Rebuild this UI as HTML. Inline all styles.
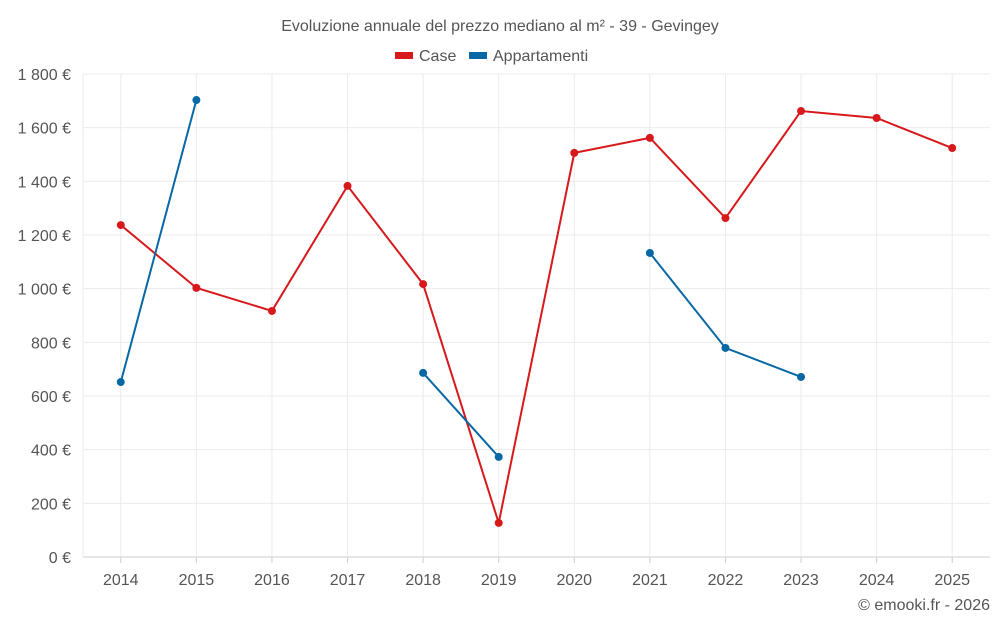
<!DOCTYPE html>
<html><head><meta charset="utf-8"><style>
body{margin:0;background:#fff;font-family:"Liberation Sans",sans-serif;}
svg text{font-family:"Liberation Sans",sans-serif;}
</style></head><body>
<svg id="chart" width="1000" height="625" xmlns="http://www.w3.org/2000/svg">
<text x="500" y="31" text-anchor="middle" font-size="16" fill="#555">Evoluzione annuale del prezzo mediano al m² - 39 - Gevingey</text>
<g>
<g><rect x="395" y="52" width="18" height="7" fill="#d7191c"/><text x="419" y="61" font-size="16" fill="#555">Case</text></g>
<g><rect x="469" y="52" width="18" height="7" fill="#0868a5"/><text x="493" y="61" font-size="16" fill="#555">Appartamenti</text></g>
</g>
<g id="grid"></g>
<g id="axes"></g>
<g id="series"></g>
<text x="990" y="610" text-anchor="end" font-size="16" fill="#555">© emooki.fr - 2026</text>
</svg>
<script>
const years=[2014,2015,2016,2017,2018,2019,2020,2021,2022,2023,2024,2025];
const caseValues=[1237,1003,917,1383,1017,127,1506,1562,1263,1662,1636,1524];
const appValues=[652,1703,null,null,686,373,null,1133,779,671,null,null];
const yTicks=[0,200,400,600,800,1000,1200,1400,1600,1800];
const yTickLabels=["0 €","200 €","400 €","600 €","800 €","1 000 €","1 200 €","1 400 €","1 600 €","1 800 €"];
const L=83,R=990,T=74,B=557,NS="http://www.w3.org/2000/svg";
const band=(R-L)/years.length;
const x=i=>L+band*(i+0.5);
const y=v=>B-(v/1800)*(B-T);
function mk(tag,attrs,parent){const e=document.createElementNS(NS,tag);for(const k in attrs)e.setAttribute(k,attrs[k]);parent.appendChild(e);return e;}
const grid=document.getElementById('grid'),axes=document.getElementById('axes'),series=document.getElementById('series');
yTicks.forEach((v,i)=>{
 const l=mk('line',{x1:L,x2:R,y1:y(v),y2:y(v),stroke:i==0?'#ccc':'#ebebeb','stroke-width':1},grid);
 
 
 const t=mk('text',{x:L-12,y:y(v)+6,'text-anchor':'end','font-size':16,fill:'#555'},axes);
 t.textContent=yTickLabels[i];
 
 
});
const le=mk('line',{x1:L,x2:L,y1:T,y2:B,stroke:'#ebebeb','stroke-width':1},grid);


years.forEach((yr,i)=>{
 const g=mk('line',{x1:x(i),x2:x(i),y1:T,y2:B,stroke:'#ebebeb','stroke-width':1},grid);
 
 
 const tk=mk('line',{x1:x(i),x2:x(i),y1:B,y2:B+6,stroke:'#ccc'},axes);
 
 
 const t=mk('text',{x:x(i),y:B+28,'text-anchor':'middle','font-size':16,fill:'#555'},axes);
 t.textContent=yr;
 
 
});
function draw(vals,color,name){
 let seg=[];
 const flush=()=>{if(seg.length>1){const p=mk('polyline',{points:seg.join(' '),fill:'none',stroke:color,'stroke-width':2},series);
  
  }seg=[];};
 vals.forEach((v,i)=>{if(v==null){flush();return;}seg.push(x(i)+','+y(v));});
 flush();
 vals.forEach((v,i)=>{if(v==null)return;
  const c=mk('circle',{cx:x(i),cy:y(v),r:4,fill:color},series);
  
  });
}
draw(caseValues,'#d7191c','case');
draw(appValues,'#0868a5','appartamenti');
</script>
</body></html>
